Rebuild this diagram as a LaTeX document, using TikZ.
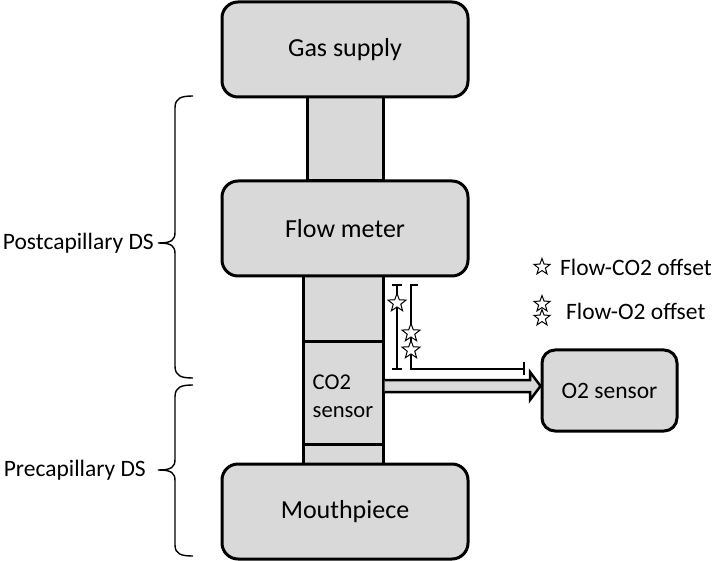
\documentclass[tikz,border=0pt]{standalone}
\usepackage{fontspec}
\setmainfont{Carlito}
\usetikzlibrary{shapes.geometric}
\definecolor{boxgray}{HTML}{D9D9D9}
\begin{document}
\begin{tikzpicture}[x=1pt,y=-1pt,
  box/.style={draw=black, line width=3pt, fill=boxgray, rounded corners=16pt, inner sep=0pt,
    font=\fontsize{26}{30}\selectfont},
  tube/.style={draw=black, line width=3pt, fill=boxgray, inner sep=0pt},
  offstar/.style={star, star points=5, star point ratio=2.4, draw=black, line width=1pt,
    fill=white, inner sep=0pt, minimum size=19pt},
  legstar/.style={offstar, minimum size=17pt},
  bar/.style={line width=2pt},
  bracepath/.style={line width=1.4pt},
  lbl/.style={inner sep=0pt, font=\fontsize{23.5}{28}\selectfont}]
\useasboundingbox (0,0) rectangle (715,561);
% tubes
\node[tube, minimum width=76pt, minimum height=84pt] (tube1) at (345,139) {};
\node[tube, minimum width=80pt, minimum height=66pt] (seg1) at (343,309) {};
\node[tube, minimum width=80pt, minimum height=102pt] (co2) at (343,393) {};
\node[tube, minimum width=80pt, minimum height=20pt] (seg3) at (343,454) {};
\node[align=left, inner sep=0pt, font=\fontsize{22.6}{28}\selectfont] (co2t) at (343,396) {CO2\\sensor};
% boxes
\node[box, minimum width=246pt, minimum height=95pt] (gas) at (345,49.5) {Gas supply};
\node[box, minimum width=246pt, minimum height=95pt] (flow) at (345,228.5) {Flow meter};
\node[box, minimum width=246pt, minimum height=95pt] (mouth) at (345,511.5) {Mouthpiece};
\node[box, rounded corners=13pt, minimum width=135pt, minimum height=81pt,
  font=\fontsize{23.5}{28}\selectfont] (o2) at (609.5,390.5) {O2 sensor};
% arrow
\coordinate (a0) at (co2.east |- 0,380);
\coordinate (a1) at (co2.east |- 0,392);
\coordinate (tip) at (o2.west |- 0,386);
\draw[line width=2.5pt, fill=boxgray, line join=miter]
  (a0) -- (530,380) -- (530,372) -- (tip) -- (530,400) -- (530,392) -- (a1);
% offset bars
\coordinate (b1t) at (397,285);
\coordinate (b1b) at (397,369);
\draw[bar] (b1t) -- (b1b);
\draw[bar] (392,285) -- (402,285);
\draw[bar] (392,369) -- (402,369);
\coordinate (b2t) at (411,285);
\coordinate (b2c) at (411,369);
\coordinate (b2e) at (524,369);
\draw[bar] (418,285) -- (b2t) -- (b2c) -- (b2e);
\draw[bar] (524,362) -- (524,375);
\node[offstar] (s1) at (397,303) {};
\node[offstar] (s2) at (411,333) {};
\node[offstar] (s3) at (411,350) {};
% legend
\node[legstar] (ls1) at (542,267) {};
\node[lbl, anchor=west] (l1) at (560,267) {Flow-CO2 offset};
\node[legstar] (ls2) at (542,304) {};
\node[legstar] (ls3) at (542,318) {};
\node[lbl, anchor=west] (l2) at (566,311) {Flow-O2 offset};
% braces
\draw[bracepath] (193,96) .. controls (181,96) and (175,98) .. (175,108) -- (175,232)
  .. controls (175,240) and (172,243) .. (158,243)
  .. controls (172,243) and (175,246) .. (175,254) -- (175,366)
  .. controls (175,376) and (181,378) .. (193,378);
\draw[bracepath] (193,385) .. controls (181,385) and (175,387) .. (175,397) -- (175,459)
  .. controls (175,467) and (172,470) .. (158,470)
  .. controls (172,470) and (175,473) .. (175,481) -- (175,545)
  .. controls (175,554) and (181,556) .. (193,556);
\node[lbl, anchor=east] (post) at (154,243) {Postcapillary DS};
\node[lbl, anchor=east] (pre) at (146,470) {Precapillary DS};
\end{tikzpicture}
\end{document}
